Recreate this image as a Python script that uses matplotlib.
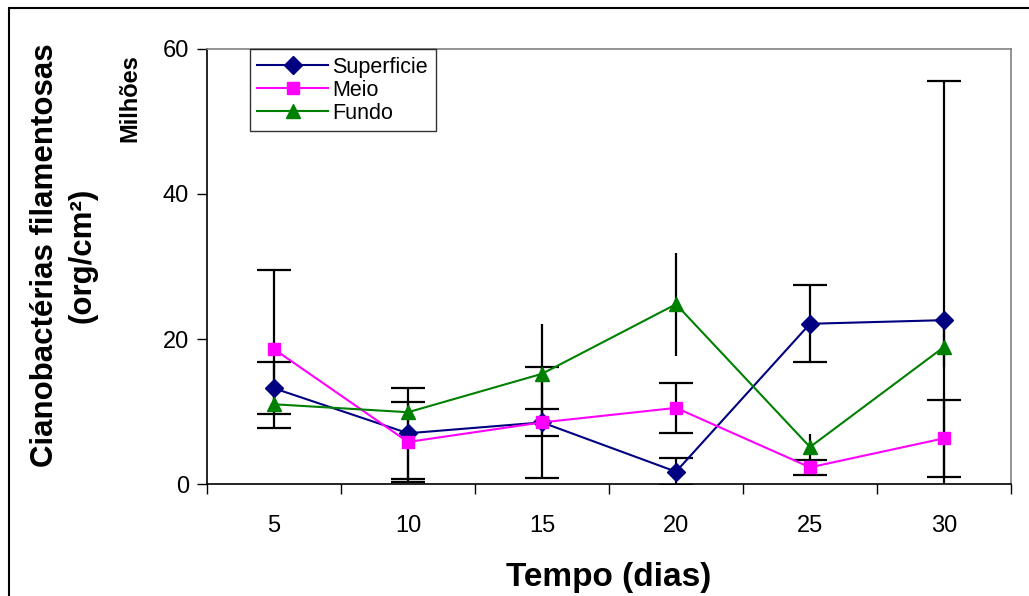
import matplotlib
matplotlib.use('Agg')
import matplotlib.pyplot as plt
import matplotlib.patches as patches

plt.rcParams['font.family'] = ['Liberation Sans', 'DejaVu Sans']

# days (categories) and mean values, in millions of org/cm2
dias = ['5', '10', '15', '20', '25', '30']
superficie = [13.2, 7.0, 8.5, 1.7, 22.1, 22.6]
meio = [18.6, 5.8, 8.5, 10.5, 2.3, 6.3]
fundo = [11.0, 9.9, 15.2, 24.8, 5.1, 18.9]

# error bars (None = not visible in the picture)
err_superficie = [3.6, 6.3, 7.7, 1.9, 5.3, 33.0]
err_meio = [10.9, 5.5, 1.9, 3.4, 1.0, 5.3]
err_fundo = [None, None, 6.9, 7.1, 1.8, 2.8]

x = list(range(1, len(dias) + 1))

fig = plt.figure(figsize=(10.29, 5.96), dpi=100)
ax = fig.add_axes([0.2012, 0.1879, 0.9825 - 0.2012, 0.9178 - 0.1879])


def draw_err(vals, errs, capsize):
    xs = [xi for xi, e in zip(x, errs) if e is not None]
    ys = [v for v, e in zip(vals, errs) if e is not None]
    es = [e for e in errs if e is not None]
    ax.errorbar(xs, ys, yerr=es, fmt='none', ecolor='black', elinewidth=1.6,
                capsize=capsize, capthick=1.6, zorder=2)


draw_err(superficie, err_superficie, 12)
draw_err(meio, err_meio, 12)
draw_err(fundo, err_fundo, 0)

ax.plot(x, superficie, color='#000080', marker='D', markersize=9, lw=1.5,
        label='Superficie', zorder=3)
ax.plot(x, meio, color='#FF00FF', marker='s', markersize=9, lw=1.5,
        label='Meio', zorder=3)
ax.plot(x, fundo, color='#008000', marker='^', markersize=10, lw=1.5,
        label='Fundo', zorder=3)

ax.set_xlim(0.5, 6.5)
ax.set_ylim(0, 60)
ax.set_yticks([0, 20, 40, 60])
ax.set_xticks(x)
ax.set_xticklabels(dias)
ax.set_xticks([i + 0.5 for i in range(0, 7)], minor=True)
ax.tick_params(axis='x', which='major', length=0, pad=22, labelsize=17)
ax.tick_params(axis='x', which='minor', length=7, width=1)
ax.tick_params(axis='y', length=7, width=1, labelsize=17, pad=6)

ax.spines['top'].set_color('#808080')
ax.spines['right'].set_color('#808080')
for s in ax.spines.values():
    s.set_linewidth(1.2)

ax.set_xlabel('Tempo (dias)', fontsize=24, fontweight='bold', labelpad=18)
fig.text(0.062, 0.572, 'Cianobactérias filamentosas\n(org/cm²)', rotation=90,
         ha='center', va='center', fontsize=22.5, fontweight='bold',
         linespacing=1.35, multialignment='center')
fig.text(0.126, 0.835, 'Milhões', rotation=90, ha='center', va='center',
         fontsize=17, fontweight='bold')

leg = ax.legend(loc='upper left', bbox_to_anchor=(0.053, 1.0), fontsize=15.5,
                frameon=True, fancybox=False, borderpad=0.35, labelspacing=0.1,
                handlelength=3.3, handletextpad=0.2, borderaxespad=0)
leg.get_frame().set_edgecolor('black')
leg.get_frame().set_linewidth(1.0)

# outer chart border (left and top visible)
fig.add_artist(patches.Rectangle((9 / 1029, -0.1), 1.2, 1 - 8 / 596 + 0.1,
                                 transform=fig.transFigure, fill=False,
                                 ec='black', lw=1.5))

fig.savefig('out.png', dpi=100)
